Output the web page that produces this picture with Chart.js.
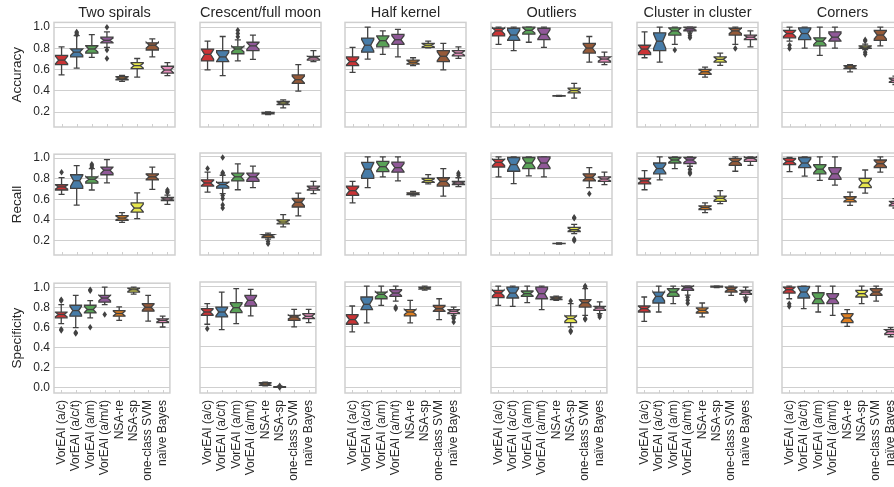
<!DOCTYPE html>
<html>
<head>
<meta charset="utf-8">
<script src="https://cdn.jsdelivr.net/npm/chart.js@4.4.1/dist/chart.umd.min.js"></script>
<style>
html, body { margin: 0; padding: 0; background: #fff; overflow: hidden; }
#fig { position: relative; width: 894px; height: 487px; overflow: hidden; }
#fig canvas { position: absolute; }
</style>
</head>
<body>
<div id="fig"></div>
<script>
const categories = ['VorEAI (a/c)', 'VorEAI (a/c/t)', 'VorEAI (a/m)', 'VorEAI (a/m/t)', 'NSA-re', 'NSA-sp', 'one-class SVM', 'naïve Bayes'];
const datasetNames = ['Two spirals', 'Crescent/full moon', 'Half kernel', 'Outliers', 'Cluster in cluster', 'Corners'];
const metricNames = ['Accuracy', 'Recall', 'Specificity'];
const boxColors = ['#cb3335', '#477ca8', '#59a257', '#905998', '#df7f20', '#e6e64d', '#965a38', '#e890be'];
const yTicksUpper = [0.2, 0.4, 0.6, 0.8, 1.0];
const yTicksLower = [0.0, 0.2, 0.4, 0.6, 0.8, 1.0];

// each box: [low whisker, q1, median, q3, high whisker]
const accTwoSpirals = [[.55,.647,.69,.735,.815],[.615,.72,.765,.795,.92],[.715,.755,.795,.825,.93],[.81,.853,.876,.906,.955],[.49,.505,.52,.535,.545],[.53,.61,.638,.667,.705],[.72,.785,.83,.853,.89],[.544,.568,.597,.632,.667]];
const accTwoSpiralsOut = [[],[.93,.945,.955],[],[1.0,.785,.705],[],[],[],[]];
const accCrescent = [[.597,.682,.744,.794,.868],[.544,.676,.72,.78,.912],[.682,.75,.795,.815,.88],[.697,.78,.824,.858,.926],[.176,.183,.19,.198,.203],[.24,.27,.285,.3,.315],[.397,.47,.506,.55,.647],[.676,.69,.712,.726,.78]];
const accCrescentOut = [[],[],[.91,.94,.97],[],[],[],[],[]];
const accHalfKernel = [[.574,.638,.676,.72,.81],[.70,.765,.83,.897,1.0],[.744,.815,.873,.918,.965],[.72,.838,.882,.932,.98],[.638,.653,.67,.69,.712],[.805,.81,.83,.847,.868],[.597,.676,.726,.78,.847],[.706,.73,.756,.78,.815]];
const accHalfKernelOut = [[],[],[],[],[],[],[],[]];
const accOutliers = [[.838,.918,.965,.99,1.0],[.78,.876,.926,.99,1.0],[.858,.935,.97,1.0,1.0],[.81,.882,.932,.99,1.0],[.348,.351,.353,.355,.357],[.332,.382,.403,.426,.47],[.67,.756,.803,.847,.912],[.647,.67,.70,.72,.765]];
const accOutliersOut = [[],[],[],[],[],[],[],[]];
const accCluster = [[.712,.741,.794,.83,.956],[.67,.78,.868,.947,1.0],[.838,.926,.965,.994,1.0],[.955,.965,.985,1.0,1.0],[.53,.556,.58,.603,.624],[.64,.67,.697,.72,.756],[.838,.926,.965,.99,1.0],[.815,.882,.906,.926,.965]];
const accClusterOut = [[],[],[.785],[.9,.92,.94],[],[],[.8],[]];
const accCorners = [[.868,.9,.94,.97,1.0],[.803,.882,.94,.994,1.0],[.735,.824,.868,.9,1.0],[.803,.868,.906,.956,1.0],[.58,.609,.624,.638,.647],[.79,.8,.812,.824,.84],[.824,.876,.926,.97,1.0],[.46,.48,.5,.52,.54]];
const accCornersOut = [[.8,.83],[],[],[],[],[.744,.765,.87,.88],[],[]];

const recTwoSpirals = [[.647,.69,.72,.741,.81],[.544,.706,.78,.838,.926],[.69,.756,.794,.818,.897],[.76,.838,.882,.912,.985],[.376,.397,.418,.441,.47],[.412,.476,.515,.565,.662],[.697,.788,.818,.847,.912],[.55,.588,.603,.618,.64]];
const recTwoSpiralsOut = [[.862],[],[.91,.925,.94],[],[],[],[],[.665,.676,.69]];
const recCrescent = [[.662,.72,.75,.78,.853],[.647,.70,.735,.756,.824],[.685,.77,.809,.844,.932],[.706,.765,.809,.844,.912],[.212,.226,.244,.256,.27],[.33,.359,.376,.397,.447],[.435,.52,.565,.603,.653],[.647,.682,.70,.72,.765]];
const recCrescentOut = [[.888],[.994,.85,.838,.63,.6,.54,.51],[],[],[.19,.168],[],[],[]];
const recHalfKernel = [[.559,.632,.676,.72,.765],[.706,.794,.882,.947,1.0],[.809,.859,.906,.956,1.0],[.77,.853,.897,.95,1.0],[.626,.638,.647,.656,.668],[.741,.756,.774,.794,.83],[.624,.72,.765,.80,.888],[.715,.735,.75,.765,.80]];
const recHalfKernelOut = [[],[],[],[],[],[],[],[.824,.844]];
const recOutliers = [[.809,.903,.947,.976,1.0],[.744,.862,.926,.994,1.0],[.818,.888,.941,.994,1.0],[.809,.888,.941,1.0,1.0],[.165,.168,.17,.172,.175],[.265,.285,.303,.324,.353],[.706,.77,.803,.838,.897],[.735,.765,.788,.809,.853]];
const recOutliersOut = [[],[],[],[],[],[.412,.42,.197,.212],[.647],[]];
const recCluster = [[.685,.741,.77,.794,.868],[.78,.838,.888,.941,1.0],[.888,.941,.97,.994,1.0],[.91,.935,.97,.994,1.0],[.465,.494,.515,.53,.559],[.553,.574,.603,.624,.676],[.862,.918,.956,.985,1.0],[.918,.956,.985,.994,1.0]];
const recClusterOut = [[],[],[],[.838,.853,.88],[],[],[],[]];
const recCorners = [[.859,.926,.956,.985,.994],[.815,.897,.941,.994,1.0],[.774,.838,.882,.926,1.0],[.729,.785,.838,.897,1.0],[.535,.568,.594,.618,.662],[.653,.706,.75,.794,.874],[.853,.897,.935,.97,1.0],[.51,.53,.555,.574,.60]];
const recCornersOut = [[],[],[],[],[],[],[],[]];

const speTwoSpirals = [[.636,.695,.728,.751,.826],[.597,.711,.767,.82,.918],[.695,.744,.777,.82,.866],[.826,.852,.892,.918,1.0],[.669,.711,.738,.767,.803],[.931,.951,.974,.99,1.0],[.662,.761,.80,.836,.918],[.603,.646,.669,.685,.711]];
const speTwoSpiralsOut = [[.866,.875,.57,.58],[.538,.548],[.965,.974,.6],[.728],[],[],[],[]];
const speCrescent = [[.623,.711,.744,.777,.826],[.57,.695,.744,.793,.941],[.63,.738,.787,.836,.974],[.705,.803,.859,.908,.967],[.016,.02,.033,.046,.052],[0,.001,.004,.008,.012],[.597,.662,.695,.711,.77],[.639,.679,.702,.728,.77]];
const speCrescentOut = [[.58],[],[],[],[],[.015,.0],[],[]];
const speHalfKernel = [[.548,.623,.669,.718,.803],[.636,.767,.82,.892,1.0],[.81,.875,.918,.941,1.0],[.852,.898,.931,.964,1.0],[.636,.705,.744,.767,.859],[.96,.97,.98,.99,1.0],[.669,.751,.777,.81,.875],[.711,.728,.751,.767,.793]];
const speHalfKernelOut = [[],[],[],[.777,.79],[],[],[],[.695,.68,.646]];
const speOutliers = [[.81,.885,.931,.957,1.0],[.80,.882,.931,.99,1.0],[.836,.898,.925,.951,1.0],[.767,.875,.925,.99,1.0],[.86,.866,.88,.892,.9],[.597,.639,.679,.705,.826],[.711,.793,.836,.866,.974],[.728,.761,.784,.80,.843]];
const speOutliersOut = [[],[],[],[],[],[.852,.548,.56],[1.0,.99,.679,.67],[.711,.695]];
const speCluster = [[.652,.744,.777,.803,.892],[.744,.833,.898,.941,1.0],[.826,.898,.941,.974,1.0],[.91,.957,.984,1.0,1.0],[.695,.734,.761,.784,.833],[.985,.99,.995,1.0,1.0],[.908,.941,.967,.99,1.0],[.89,.918,.941,.957,.99]];
const speClusterOut = [[],[],[],[.83,.86,.89],[],[],[],[.86,.875]];
const speCorners = [[.875,.931,.964,.99,1.0],[.777,.882,.941,.997,1.0],[.744,.826,.875,.934,1.0],[.711,.826,.875,.925,1.0],[.603,.639,.685,.728,.767],[.826,.892,.925,.957,1.0],[.852,.908,.941,.974,1.0],[.50,.52,.55,.57,.59]];
const speCornersOut = [[.8,.826],[],[],[],[],[],[],[]];

const panelStats = [
    [accTwoSpirals, accCrescent, accHalfKernel, accOutliers, accCluster, accCorners],
    [recTwoSpirals, recCrescent, recHalfKernel, recOutliers, recCluster, recCorners],
    [speTwoSpirals, speCrescent, speHalfKernel, speOutliers, speCluster, speCorners]
];
const panelOutliers = [
    [accTwoSpiralsOut, accCrescentOut, accHalfKernelOut, accOutliersOut, accClusterOut, accCornersOut],
    [recTwoSpiralsOut, recCrescentOut, recHalfKernelOut, recOutliersOut, recClusterOut, recCornersOut],
    [speTwoSpiralsOut, speCrescentOut, speHalfKernelOut, speOutliersOut, speClusterOut, speCornersOut]
];

// layout of the grid of panels (px)
const colLeft = [54, 200, 345, 491, 637, 782];
const rowTop = [23, 153, 282];
const rowHeight = [112, 110, 111];
const panelWidth = 121;
const yLimits = [[0.06, 1.045], [0.06, 1.037], [-0.055, 1.04]];

const lineGray = '#424242';
const frameGray = '#cfcfcf';
const textColor = '#262626';
const fontFamily = "'Liberation Sans', Arial, sans-serif";

const boxPlugin = {
    id: 'notchedBoxes',
    beforeDatasetsDraw(chart) {
        const {ctx, chartArea: a, scales: {x}} = chart;
        ctx.save();
        ctx.strokeStyle = frameGray;
        ctx.lineWidth = 1;
        categories.forEach((c, i) => {
            const px = Math.round(x.getPixelForValue(i)) + 0.5;
            ctx.beginPath();
            ctx.moveTo(px, a.bottom);
            ctx.lineTo(px, a.bottom - 3);
            ctx.stroke();
        });
        ctx.lineWidth = 1.5;
        ctx.strokeRect(a.left, a.top, a.right - a.left, a.bottom - a.top);
        ctx.restore();
    },
    afterDatasetsDraw(chart) {
        const {ctx, scales: {y}} = chart;
        const ds = chart.data.datasets[0];
        const meta = chart.getDatasetMeta(0);
        ctx.save();
        ctx.strokeStyle = lineGray;
        ctx.lineWidth = 1.3;
        ctx.lineJoin = 'miter';
        meta.data.forEach((bar, i) => {
            const [lo, q1, med, q3, hi] = ds.stats[i];
            const cx = bar.x, hw = bar.width / 2;
            const left = cx - hw, right = cx + hw, ind = hw / 2;
            const notch = 0.4 * (q3 - q1);
            const py = v => y.getPixelForValue(v);
            // whiskers and caps
            ctx.beginPath();
            ctx.moveTo(cx, py(q3)); ctx.lineTo(cx, py(hi));
            ctx.moveTo(cx - ind, py(hi)); ctx.lineTo(cx + ind, py(hi));
            ctx.moveTo(cx, py(q1)); ctx.lineTo(cx, py(lo));
            ctx.moveTo(cx - ind, py(lo)); ctx.lineTo(cx + ind, py(lo));
            ctx.stroke();
            // notched box
            ctx.beginPath();
            ctx.moveTo(left, py(q1));
            ctx.lineTo(right, py(q1));
            ctx.lineTo(right, py(med - notch));
            ctx.lineTo(right - ind, py(med));
            ctx.lineTo(right, py(med + notch));
            ctx.lineTo(right, py(q3));
            ctx.lineTo(left, py(q3));
            ctx.lineTo(left, py(med + notch));
            ctx.lineTo(left + ind, py(med));
            ctx.lineTo(left, py(med - notch));
            ctx.closePath();
            ctx.fillStyle = boxColors[i];
            ctx.fill();
            ctx.stroke();
            // median
            ctx.beginPath();
            ctx.moveTo(left + ind, py(med));
            ctx.lineTo(right - ind, py(med));
            ctx.stroke();
            // fliers as thin diamonds
            ctx.fillStyle = lineGray;
            ds.fliers[i].forEach(v => {
                const fy = py(v);
                ctx.beginPath();
                ctx.moveTo(cx, fy - 3.3);
                ctx.lineTo(cx + 2.3, fy);
                ctx.lineTo(cx, fy + 3.3);
                ctx.lineTo(cx - 2.3, fy);
                ctx.closePath();
                ctx.fill();
            });
        });
        ctx.restore();
    }
};

const fig = document.getElementById('fig');

function makePanel(r, c) {
    const padL = c === 0 ? 54 : 8;
    const padR = 10;
    const padT = r === 0 ? 23 : 10;
    const padB = r === 2 ? 94 : 8;
    const canvas = document.createElement('canvas');
    canvas.width = padL + panelWidth + padR;
    canvas.height = padT + rowHeight[r] + padB;
    canvas.style.left = (colLeft[c] - padL) + 'px';
    canvas.style.top = (rowTop[r] - padT) + 'px';
    fig.appendChild(canvas);

    const stats = panelStats[r][c];
    const tickValues = r === 2 ? yTicksLower : yTicksUpper;

    new Chart(canvas.getContext('2d'), {
        type: 'bar',
        data: {
            labels: categories,
            datasets: [{
                data: stats.map(s => [s[1], s[3]]),
                stats: stats,
                fliers: panelOutliers[r][c],
                backgroundColor: 'rgba(0,0,0,0)',
                borderWidth: 0,
                barPercentage: 0.8,
                categoryPercentage: 1.0
            }]
        },
        options: {
            responsive: false,
            animation: false,
            devicePixelRatio: 1,
            layout: {
                padding: {top: r === 0 ? 0 : padT, right: padR, bottom: r === 2 ? 0 : padB, left: 0}
            },
            plugins: {
                legend: {display: false},
                tooltip: {enabled: false},
                title: {
                    display: r === 0,
                    fullSize: false,  // centre over the plot area, not the whole canvas
                    text: datasetNames[c],
                    color: textColor,
                    font: {family: fontFamily, size: 14.5, weight: 'normal'},
                    padding: {top: 4, bottom: 1}
                }
            },
            scales: {
                x: {
                    display: r === 2,
                    grid: {display: false, drawTicks: false},
                    border: {display: false},
                    ticks: {
                        autoSkip: false,
                        minRotation: 90,
                        maxRotation: 90,
                        padding: 7,
                        color: textColor,
                        font: {family: fontFamily, size: 12}
                    },
                    afterFit: s => { s.height = padB; }
                },
                y: {
                    min: yLimits[r][0],
                    max: yLimits[r][1],
                    afterBuildTicks: s => { s.ticks = tickValues.map(v => ({value: v})); },
                    grid: {color: frameGray, lineWidth: 1, drawTicks: false},
                    border: {display: false},
                    ticks: {
                        display: c === 0,
                        padding: 4,
                        color: textColor,
                        font: {family: fontFamily, size: 12},
                        callback: v => v.toFixed(1)
                    },
                    title: {
                        display: c === 0,
                        text: metricNames[r],
                        color: textColor,
                        font: {family: fontFamily, size: 13.5},
                        padding: {top: 9, bottom: 0}
                    },
                    afterFit: s => { s.width = padL; }
                }
            }
        },
        plugins: [boxPlugin]
    });
}

for (let r = 0; r < 3; r++) {
    for (let c = 0; c < 6; c++) {
        makePanel(r, c);
    }
}
</script>
</body>
</html>
